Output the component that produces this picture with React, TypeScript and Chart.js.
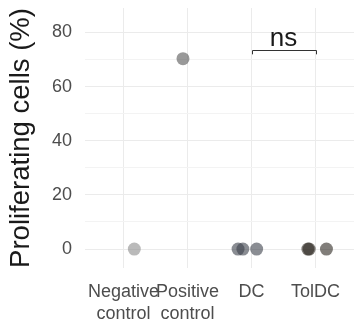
import React, { useEffect, useRef } from "react";
import { Chart, registerables } from "chart.js";

Chart.register(...registerables);

const categories: string[][] = [["Negative", "control"], ["Positive", "control"], ["DC"], ["TolDC"]];
const categoryPositions = [1, 2, 3, 4];
const groupNames = ["Negative control", "Positive control", "DC", "TolDC"];
// jittered x position (category index + jitter) and value (%)
const negX = [1.17];
const negY = [0];
const posX = [1.93];
const posY = [70.3];
const dcX = [2.79, 2.865, 3.08];
const dcY = [0, 0, 0];
const tolX = [3.88, 3.9, 4.17];
const tolY = [0, 0, 0];
const groupColors = [
  "rgba(140,140,140,0.6)",
  "rgba(85,85,85,0.6)",
  "rgba(60,65,75,0.6)",
  "rgba(45,40,33,0.6)",
];
const yTicks = [0, 10, 20, 30, 40, 50, 60, 70, 80];
const bracketFrom = 3;
const bracketTo = 4;
const bracketY = 73.6;
const bracketTickY = 71.9;
const bracketLabel = "ns";

const FONT = "'Liberation Sans', Arial, sans-serif";

export default function App() {
  const ref = useRef<HTMLCanvasElement>(null);
  useEffect(() => {
    document.body.style.margin = "0";
    const xs = [negX, posX, dcX, tolX];
    const ys = [negY, posY, dcY, tolY];
    const datasets = xs.map((xa, gi) => ({
      label: groupNames[gi],
      data: xa.map((x, i) => ({ x, y: ys[gi][i] })),
      pointRadius: 6.5,
      pointBackgroundColor: groupColors[gi],
      pointBorderWidth: 0,
      borderWidth: 0,
      showLine: false,
    }));
    const bracketPlugin = {
      id: "bracket",
      afterDatasetsDraw(chart: any) {
        const { ctx, scales } = chart;
        const x1 = scales.x.getPixelForValue(bracketFrom);
        const x2 = scales.x.getPixelForValue(bracketTo);
        const yb = scales.y.getPixelForValue(bracketY);
        const yt = scales.y.getPixelForValue(bracketTickY);
        ctx.save();
        ctx.strokeStyle = "#333333";
        ctx.lineWidth = 1;
        ctx.beginPath();
        ctx.moveTo(Math.round(x1) + 0.5, yt);
        ctx.lineTo(Math.round(x1) + 0.5, Math.round(yb) + 0.5);
        ctx.lineTo(Math.round(x2) + 0.5, Math.round(yb) + 0.5);
        ctx.lineTo(Math.round(x2) + 0.5, yt);
        ctx.stroke();
        ctx.fillStyle = "#1a1a1a";
        ctx.font = `26px ${FONT}`;
        ctx.textAlign = "center";
        ctx.textBaseline = "alphabetic";
        ctx.fillText(bracketLabel, (x1 + x2) / 2, yb - 4);
        ctx.restore();
      },
    };
    const chart = new Chart(ref.current!, {
      type: "scatter",
      data: { datasets },
      plugins: [bracketPlugin],
      options: {
        animation: false,
        responsive: false,
        maintainAspectRatio: false,
        layout: { autoPadding: false, padding: { top: 8, right: 1, left: 0, bottom: 0 } },
        plugins: { legend: { display: false }, tooltip: { enabled: false } },
        scales: {
          x: {
            type: "linear",
            min: 0.4,
            max: 4.6,
            afterBuildTicks: (s: any) => {
              s.ticks = categoryPositions.map((v) => ({ value: v }));
            },
            afterFit: (s: any) => {
              s.height = 61;
              s.paddingLeft = 0;
              s.paddingRight = 0;
            },
            border: { display: false },
            grid: { color: "#ebebeb", lineWidth: 1, drawTicks: false },
            ticks: {
              padding: 13,
              color: "#4d4d4d",
              font: { family: FONT, size: 18, lineHeight: 1.22 },
              maxRotation: 0,
              autoSkip: false,
              callback: (v: any) => {
                const i = categoryPositions.indexOf(Number(v));
                return i >= 0 ? categories[i] : "";
              },
            },
          },
          y: {
            min: -7,
            max: 89,
            afterBuildTicks: (s: any) => {
              s.ticks = yTicks.map((v) => ({ value: v }));
            },
            afterFit: (s: any) => {
              s.width = 85;
              s.paddingTop = 0;
              s.paddingBottom = 0;
            },
            border: { display: false },
            grid: {
              color: (c: any) => (c.tick && c.tick.value % 20 === 0 ? "#ebebeb" : "#f3f3f3"),
              lineWidth: 1,
              drawTicks: false,
            },
            title: {
              display: true,
              text: "Proliferating cells (%)",
              color: "#1a1a1a",
              font: { family: FONT, size: 27.5 },
              padding: { top: 5, bottom: 0 },
            },
            ticks: {
              padding: 13,
              color: "#4d4d4d",
              font: { family: FONT, size: 18 },
              callback: (v: any) => (Number(v) % 20 === 0 ? String(v) : ""),
            },
          },
        },
      },
    });
    return () => chart.destroy();
  }, []);
  return (
    <div style={{ width: 355, height: 329 }}>
      <canvas ref={ref} width={355} height={329} style={{ width: 355, height: 329 }} />
    </div>
  );
}
